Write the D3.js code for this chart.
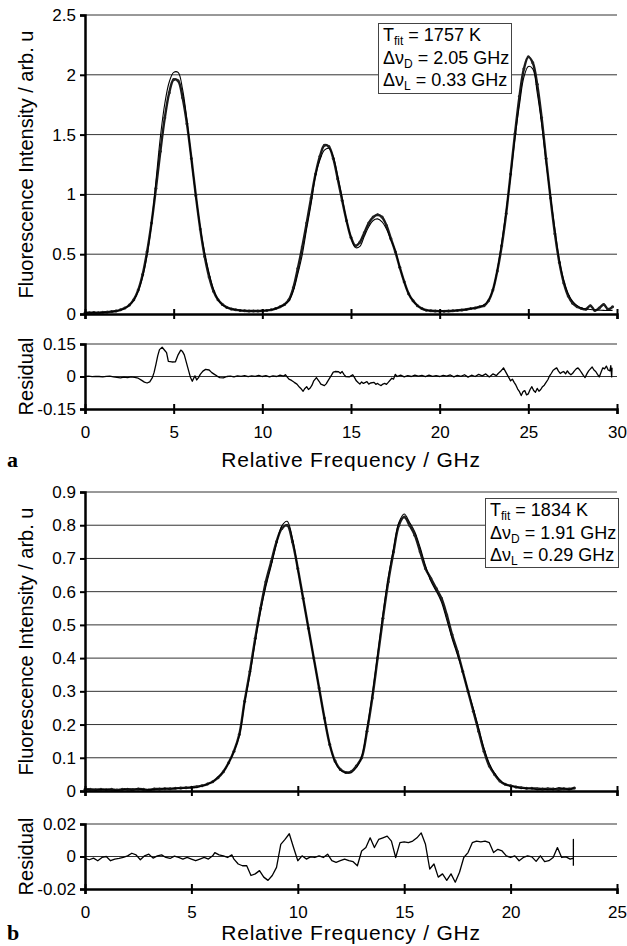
<!DOCTYPE html>
<html>
<head>
<meta charset="utf-8">
<script src="https://cdn.jsdelivr.net/npm/d3@7"></script>
<style>
  body { margin: 0; background: #fff; }
  svg text { font-family: "Liberation Sans", Arial, sans-serif; fill: #000; }
</style>
</head>
<body>
<svg id="chart" width="627" height="946"></svg>
<script>
// panel a: measured spectrum, fit and residual (GHz, arb. u)
var dataA = [[0,0.01],[0.25,0.01],[0.5,0.012],[0.75,0.01],[1,0.014],[1.25,0.016],[1.5,0.02],[1.75,0.025],[2,0.035],[2.25,0.05],[2.5,0.075],[2.75,0.12],[3,0.2],[3.25,0.33],[3.5,0.52],[3.75,0.76],[4,1.05],[4.25,1.36],[4.5,1.64],[4.75,1.85],[5,1.96],[5.25,1.95],[5.5,1.81],[5.75,1.59],[6,1.3],[6.25,0.99],[6.5,0.71],[6.75,0.48],[7,0.31],[7.25,0.19],[7.5,0.12],[7.75,0.08],[8,0.055],[8.25,0.042],[8.5,0.035],[8.75,0.03],[9,0.027],[9.25,0.025],[9.5,0.025],[9.75,0.025],[10,0.027],[10.25,0.03],[10.5,0.035],[10.75,0.045],[11,0.06],[11.25,0.08],[11.5,0.12],[11.75,0.22],[12,0.38],[12.25,0.56],[12.5,0.76],[12.75,0.97],[13,1.17],[13.25,1.32],[13.5,1.41],[13.75,1.4],[14,1.3],[14.25,1.13],[14.5,0.95],[14.75,0.78],[15,0.64],[15.25,0.57],[15.5,0.6],[15.75,0.68],[16,0.76],[16.25,0.81],[16.5,0.83],[16.75,0.81],[17,0.74],[17.25,0.63],[17.5,0.52],[17.75,0.39],[18,0.27],[18.25,0.17],[18.5,0.11],[18.75,0.07],[19,0.045],[19.25,0.032],[19.5,0.027],[19.75,0.025],[20,0.024],[20.25,0.024],[20.5,0.025],[20.75,0.027],[21,0.03],[21.25,0.033],[21.5,0.038],[21.75,0.045],[22,0.05],[22.25,0.06],[22.5,0.07],[22.75,0.11],[23,0.2],[23.25,0.36],[23.5,0.57],[23.75,0.84],[24,1.17],[24.25,1.51],[24.5,1.82],[24.75,2.05],[25,2.15],[25.25,2.1],[25.5,1.92],[25.75,1.64],[26,1.3],[26.25,0.97],[26.5,0.67],[26.75,0.43],[27,0.26],[27.25,0.15],[27.5,0.09],[27.75,0.06],[28,0.045],[28.25,0.04],[28.5,0.07],[28.75,0.03],[29,0.05],[29.25,0.08],[29.5,0.04],[29.75,0.06]];

var fitA = [[0,0.01],[0.25,0.01],[0.5,0.012],[0.75,0.01],[1,0.013],[1.25,0.015],[1.5,0.019],[1.75,0.024],[2,0.033],[2.25,0.048],[2.5,0.073],[2.75,0.115],[3,0.19],[3.25,0.31],[3.5,0.49],[3.75,0.75],[4,1.11],[4.25,1.48],[4.5,1.76],[4.75,1.94],[5,2.02],[5.25,2.02],[5.5,1.88],[5.75,1.62],[6,1.29],[6.25,0.99],[6.5,0.72],[6.75,0.51],[7,0.34],[7.25,0.205],[7.5,0.12],[7.75,0.075],[8,0.055],[8.25,0.042],[8.5,0.035],[8.75,0.03],[9,0.027],[9.25,0.025],[9.5,0.025],[9.75,0.025],[10,0.027],[10.25,0.03],[10.5,0.035],[10.75,0.045],[11,0.06],[11.25,0.08],[11.5,0.11],[11.75,0.193],[12,0.335],[12.25,0.495],[12.5,0.713],[12.75,0.92],[13,1.16],[13.25,1.29],[13.5,1.37],[13.75,1.385],[14,1.315],[14.25,1.153],[14.5,0.973],[14.75,0.78],[15,0.643],[15.25,0.555],[15.5,0.565],[15.75,0.65],[16,0.73],[16.25,0.782],[16.5,0.795],[16.75,0.77],[17,0.71],[17.25,0.618],[17.5,0.53],[17.75,0.39],[18,0.27],[18.25,0.17],[18.5,0.11],[18.75,0.07],[19,0.045],[19.25,0.032],[19.5,0.027],[19.75,0.025],[20,0.024],[20.25,0.024],[20.5,0.025],[20.75,0.027],[21,0.03],[21.25,0.033],[21.5,0.038],[21.75,0.045],[22,0.05],[22.25,0.06],[22.5,0.075],[22.75,0.115],[23,0.2],[23.25,0.37],[23.5,0.6],[23.75,0.86],[24,1.15],[24.25,1.475],[24.5,1.75],[24.75,1.98],[25,2.07],[25.25,2.05],[25.5,1.85],[25.75,1.59],[26,1.27],[26.25,0.98],[26.5,0.705],[26.75,0.45],[27,0.28],[27.25,0.17],[27.5,0.105],[27.75,0.07],[28,0.05],[28.25,0.042],[28.5,0.037],[28.75,0.034],[29,0.032],[29.25,0.03],[29.5,0.03],[29.75,0.03]];

var residA = [[0,0],[0.2,0.002],[0.4,-0.001],[0.6,0.001],[0.8,0],[1,-0.002],[1.2,0.001],[1.4,0.002],[1.6,-0.002],[1.8,-0.004],[2,-0.006],[2.2,-0.003],[2.4,-0.005],[2.6,-0.002],[2.8,-0.004],[3,-0.008],[3.2,-0.018],[3.35,-0.026],[3.5,-0.03],[3.65,-0.025],[3.8,-0.005],[3.9,0.02],[4,0.056],[4.1,0.095],[4.2,0.124],[4.35,0.135],[4.5,0.12],[4.6,0.11],[4.7,0.07],[4.9,0.067],[5.1,0.068],[5.25,0.1],[5.4,0.122],[5.5,0.115],[5.6,0.1],[5.7,0.07],[5.8,0.04],[5.95,-0.005],[6.05,-0.022],[6.15,-0.005],[6.2,0.003],[6.3,-0.016],[6.4,-0.005],[6.5,0.01],[6.65,0.025],[6.8,0.033],[7,0.03],[7.15,0.018],[7.3,0.01],[7.45,0.002],[7.6,-0.005],[7.8,-0.006],[8,0],[8.2,0.002],[8.4,-0.002],[8.6,0.003],[8.8,0.001],[9,0.004],[9.2,-0.001],[9.4,0.003],[9.6,0.001],[9.8,0.005],[10,0],[10.2,0.004],[10.4,-0.002],[10.6,0.003],[10.8,0],[11,0.006],[11.2,0.002],[11.3,0.008],[11.5,-0.012],[11.65,-0.018],[11.8,-0.027],[11.95,-0.035],[12.1,-0.05],[12.2,-0.058],[12.3,-0.068],[12.4,-0.055],[12.5,-0.047],[12.6,-0.06],[12.7,-0.053],[12.8,-0.04],[12.9,-0.02],[13.05,-0.005],[13.2,-0.022],[13.3,-0.035],[13.5,-0.042],[13.6,-0.034],[13.7,-0.02],[13.9,0.006],[14,0.02],[14.1,0.023],[14.3,0.022],[14.4,0.015],[14.5,0.023],[14.6,0.01],[14.7,0],[14.9,-0.002],[15,0.003],[15.1,0.008],[15.2,-0.005],[15.3,-0.02],[15.4,-0.028],[15.5,-0.035],[15.6,-0.025],[15.7,-0.032],[15.9,-0.024],[16,-0.035],[16.1,-0.03],[16.3,-0.027],[16.4,-0.036],[16.5,-0.032],[16.6,-0.038],[16.7,-0.042],[16.8,-0.035],[16.9,-0.032],[17,-0.036],[17.1,-0.027],[17.3,-0.008],[17.4,-0.012],[17.5,0.01],[17.6,0],[17.8,0.006],[18,-0.002],[18.2,0.004],[18.4,0],[18.6,0.006],[18.8,0.002],[19,0.005],[19.2,-0.001],[19.4,0.006],[19.6,0.001],[19.8,0.004],[20,0],[20.2,0.005],[20.4,0.002],[20.6,0.007],[20.8,-0.002],[21,0.005],[21.2,0.001],[21.4,0.008],[21.6,-0.003],[21.8,0.006],[22,0],[22.2,0.01],[22.4,0.003],[22.6,0.012],[22.8,-0.002],[23,0.012],[23.2,0.004],[23.3,0.014],[23.45,0.025],[23.6,0.04],[23.7,0.025],[23.8,0.01],[23.9,-0.005],[24,-0.02],[24.1,-0.012],[24.2,-0.027],[24.3,-0.04],[24.4,-0.058],[24.5,-0.07],[24.6,-0.088],[24.7,-0.07],[24.8,-0.065],[24.9,-0.085],[25,-0.08],[25.1,-0.06],[25.2,-0.047],[25.3,-0.065],[25.4,-0.073],[25.5,-0.055],[25.6,-0.068],[25.7,-0.06],[25.8,-0.047],[25.9,-0.04],[26,-0.027],[26.1,-0.015],[26.2,0.003],[26.3,0.015],[26.4,0.029],[26.5,0.035],[26.6,0.04],[26.7,0.025],[26.8,0.014],[26.9,0.02],[27,0.023],[27.1,0.012],[27.2,0.026],[27.3,0.015],[27.4,0.008],[27.5,0.015],[27.6,0.026],[27.7,0.035],[27.8,0.04],[27.9,0.03],[28,0.018],[28.1,0.005],[28.2,-0.005],[28.3,0.012],[28.4,0.026],[28.5,0.035],[28.6,0.044],[28.7,0.03],[28.8,0.023],[28.9,0.01],[29,-0.002],[29.1,0.02],[29.2,0.04],[29.3,0.035],[29.4,0.048],[29.5,0.03],[29.6,0.026],[29.65,0.05],[29.7,-0.002],[29.72,0.04]];

// panel b
var dataB = [[0,0.005],[0.25,0.005],[0.5,0.004],[0.75,0.005],[1,0.004],[1.25,0.005],[1.5,0.003],[1.75,0.005],[2,0.005],[2.25,0.004],[2.5,0.006],[2.75,0.005],[3,0.003],[3.25,0.006],[3.5,0.006],[3.75,0.007],[4,0.007],[4.25,0.008],[4.5,0.009],[4.75,0.01],[5,0.011],[5.25,0.013],[5.5,0.016],[5.75,0.021],[6,0.028],[6.25,0.04],[6.5,0.058],[6.75,0.085],[7,0.12],[7.25,0.17],[7.5,0.27],[7.75,0.36],[8,0.46],[8.25,0.55],[8.5,0.63],[8.75,0.69],[9,0.75],[9.25,0.79],[9.5,0.8],[9.75,0.75],[10,0.67],[10.25,0.58],[10.5,0.49],[10.75,0.4],[11,0.31],[11.25,0.22],[11.5,0.14],[11.75,0.09],[12,0.065],[12.25,0.056],[12.5,0.058],[12.75,0.075],[13,0.1],[13.25,0.18],[13.5,0.28],[13.75,0.4],[14,0.52],[14.25,0.63],[14.5,0.72],[14.75,0.8],[15,0.825],[15.25,0.8],[15.5,0.77],[15.75,0.72],[16,0.67],[16.25,0.64],[16.5,0.61],[16.75,0.58],[17,0.53],[17.25,0.47],[17.5,0.42],[17.75,0.36],[18,0.3],[18.25,0.24],[18.5,0.18],[18.75,0.12],[19,0.075],[19.25,0.05],[19.5,0.03],[19.75,0.02],[20,0.016],[20.25,0.012],[20.5,0.01],[20.75,0.008],[21,0.008],[21.25,0.007],[21.5,0.006],[21.75,0.007],[22,0.006],[22.25,0.005],[22.5,0.007],[22.75,0.006],[23,0.009]];

var fitB = [[0,0.004],[0.25,0.003],[0.5,0.003],[0.75,0.004],[1,0.004],[1.25,0.003],[1.5,0.002],[1.75,0.004],[2,0.006],[2.25,0.006],[2.5,0.006],[2.75,0.004],[3,0.004],[3.25,0.005],[3.5,0.006],[3.75,0.007],[4,0.006],[4.25,0.008],[4.5,0.008],[4.75,0.009],[5,0.01],[5.25,0.011],[5.5,0.015],[5.75,0.02],[6,0.028],[6.25,0.042],[6.5,0.058],[6.75,0.085],[7,0.119],[7.25,0.166],[7.5,0.265],[7.75,0.35],[8,0.45],[8.25,0.541],[8.5,0.616],[8.75,0.678],[9,0.744],[9.25,0.798],[9.5,0.812],[9.75,0.76],[10,0.668],[10.25,0.58],[10.5,0.49],[10.75,0.4],[11,0.31],[11.25,0.22],[11.5,0.141],[11.75,0.087],[12,0.063],[12.25,0.055],[12.5,0.055],[12.75,0.07],[13,0.103],[13.25,0.186],[13.5,0.29],[13.75,0.41],[14,0.532],[14.25,0.643],[14.5,0.73],[14.75,0.808],[15,0.834],[15.25,0.809],[15.5,0.78],[15.75,0.733],[16,0.678],[16.25,0.632],[16.5,0.602],[16.75,0.569],[17,0.515],[17.25,0.459],[17.5,0.41],[17.75,0.36],[18,0.302],[18.25,0.248],[18.5,0.189],[18.75,0.129],[19,0.083],[19.25,0.053],[19.5,0.033],[19.75,0.02],[20,0.015],[20.25,0.012],[20.5,0.008],[20.75,0.008],[21,0.008],[21.25,0.004],[21.5,0.006],[21.75,0.004],[22,0.005],[22.25,0.01],[22.5,0.007],[22.75,0.005],[23,0.01]];

var residB = [[0,-0.0012],[0.2,-0.002],[0.4,-0.001],[0.6,-0.0026],[0.8,-0.0006],[1,0],[1.2,-0.0026],[1.4,-0.0016],[1.6,-0.0012],[1.8,-0.0006],[2,0.0004],[2.2,0.002],[2.4,0.001],[2.6,-0.002],[2.8,0.0004],[3,0.0014],[3.2,-0.001],[3.4,0.0004],[3.6,0.001],[3.8,-0.0006],[4,-0.0012],[4.2,0.0002],[4.4,-0.0006],[4.6,-0.0016],[4.8,-0.0006],[5,-0.0016],[5.2,-0.0026],[5.4,-0.0016],[5.6,-0.0006],[5.8,-0.0016],[6,0.0004],[6.1,0.0024],[6.3,0.001],[6.5,0.0004],[6.7,-0.0006],[6.9,0.001],[7,-0.0016],[7.2,-0.0046],[7.4,-0.0057],[7.6,-0.0057],[7.8,-0.0117],[8,-0.0107],[8.2,-0.0087],[8.4,-0.0127],[8.6,-0.0147],[8.8,-0.0117],[9,-0.0067],[9.2,0.0075],[9.4,0.0105],[9.6,0.014],[9.8,0.0055],[10,-0.0026],[10.2,0.0004],[10.4,-0.0016],[10.6,-0.0002],[10.8,-0.0006],[11,0.0004],[11.2,-0.0006],[11.4,0.0014],[11.6,-0.0026],[11.8,-0.0036],[12,-0.0026],[12.2,-0.0016],[12.4,-0.0026],[12.6,-0.0032],[12.8,-0.0057],[13,0.0034],[13.2,0.0055],[13.4,0.0115],[13.6,0.0055],[13.8,0.0105],[14,0.0115],[14.2,0.0125],[14.4,0.0095],[14.6,-0.0006],[14.8,0.0085],[15,0.009],[15.2,0.0085],[15.4,0.0095],[15.6,0.0115],[15.8,0.0145],[16,0.0075],[16.2,-0.0077],[16.4,-0.0046],[16.6,-0.0127],[16.8,-0.0107],[17,-0.0147],[17.2,-0.0107],[17.4,-0.0158],[17.6,-0.0097],[17.8,-0.0006],[18,0.0024],[18.2,0.0085],[18.4,0.0095],[18.6,0.009],[18.8,0.0095],[19,0.0085],[19.2,0.0024],[19.4,0.0044],[19.6,0.0034],[19.8,0.0004],[20,-0.0006],[20.2,0.0004],[20.4,-0.0026],[20.6,-0.0006],[20.8,0.0004],[21,-0.0002],[21.2,-0.003],[21.4,0.0004],[21.6,-0.0032],[21.8,-0.0026],[22,-0.0006],[22.2,0.0055],[22.4,-0.0006],[22.6,-0.0002],[22.8,-0.0016],[22.95,-0.001],[22.95,0.0105],[22.95,-0.0057]];

var ticksA = [0, 0.5, 1, 1.5, 2, 2.5];
var ticksB = [0, 0.1, 0.2, 0.3, 0.4, 0.5, 0.6, 0.7, 0.8, 0.9];
var xTicksA = [0, 5, 10, 15, 20, 25, 30];
var xTicksB = [0, 5, 10, 15, 20, 25];
var resTicksA = [-0.15, 0, 0.15];
var resTicksB = [-0.02, 0, 0.02];
var legendA = [["T", "fit", " = 1757 K"], ["\u0394\u03bd", "D", " = 2.05 GHz"], ["\u0394\u03bd", "L", " = 0.33 GHz"]];
var legendB = [["T", "fit", " = 1834 K"], ["\u0394\u03bd", "D", " = 1.91 GHz"], ["\u0394\u03bd", "L", " = 0.29 GHz"]];

(function () {

    window.addEventListener('load', init);

    var left = 85, right = 617;

    function init() {
        var svg = d3.select("#chart");

        mainPanel(svg, {top: 15, bottom: 314, xMax: 30, xTicks: xTicksA, yTicks: ticksA,
            data: dataA, fit: fitA, legend: legendA, box: [378, 23, 133, 70]});
        residPanel(svg, {top: 344, bottom: 409, xMax: 30, xTicks: xTicksA, yTicks: resTicksA,
            resid: residA, letter: "a", labelY: 467});

        mainPanel(svg, {top: 492, bottom: 791, xMax: 25, xTicks: xTicksB, yTicks: ticksB,
            data: dataB, fit: fitB, legend: legendB, box: [485, 498, 133, 69]});
        residPanel(svg, {top: 824, bottom: 889, xMax: 25, xTicks: xTicksB, yTicks: resTicksB,
            resid: residB, letter: "b", labelY: 940});
    }

    function fmt(d) { return String(d); }

    function xAxis(g, x, yPos, labels) {
        var ax = g.append("g")
            .attr("transform", "translate(0," + yPos + ")")
            .call(d3.axisBottom(x).tickValues(x.ticksList).tickSize(5).tickFormat(labels ? fmt : ""));
        ax.select(".domain").attr("stroke", "#000").attr("stroke-width", 2.5);
        ax.selectAll(".tick line").attr("y1", -5).attr("y2", 5).attr("stroke-width", 2);
        ax.selectAll(".tick text").attr("y", 17).attr("dy", "0.71em")
            .style("font-size", "17px").style("font-family", '"Liberation Sans", Arial, sans-serif');
        return ax;
    }

    function yAxis(g, y, ticks) {
        var ay = g.append("g")
            .attr("transform", "translate(" + left + ",0)")
            .call(d3.axisLeft(y).tickValues(ticks).tickSize(5).tickPadding(4).tickFormat(fmt));
        ay.select(".domain").attr("stroke", "#000").attr("stroke-width", 2.5);
        ay.selectAll(".tick line").attr("stroke-width", 2);
        ay.selectAll(".tick text").style("font-size", "17px")
            .style("font-family", '"Liberation Sans", Arial, sans-serif');
        return ay;
    }

    function mainPanel(svg, c) {
        var g = svg.append("g");
        var x = d3.scaleLinear().domain([0, c.xMax]).range([left, right]);
        x.ticksList = c.xTicks;
        var y = d3.scaleLinear().domain([0, c.yTicks[c.yTicks.length - 1]]).range([c.bottom, c.top]);

        // grid lines
        g.selectAll(".grid")
            .data(c.yTicks.slice(1))
            .enter().append("line")
            .attr("x1", left).attr("x2", right)
            .attr("y1", function (d) { return y(d); })
            .attr("y2", function (d) { return y(d); })
            .attr("stroke", "#333").attr("stroke-width", 1);

        var line = d3.line()
            .x(function (d) { return x(d[0]); })
            .y(function (d) { return y(d[1]); })
            .curve(d3.curveCatmullRom);

        // measured points
        g.append("path").datum(c.data)
            .attr("d", line).attr("fill", "none")
            .attr("stroke", "#1a1a1a").attr("stroke-width", 2.4);
        g.selectAll(".pt")
            .data(c.data)
            .enter().append("circle")
            .attr("cx", function (d) { return x(d[0]); })
            .attr("cy", function (d) { return y(d[1]); })
            .attr("r", 1.5).attr("fill", "#222");

        // fit
        g.append("path").datum(c.fit)
            .attr("d", line).attr("fill", "none")
            .attr("stroke", "#000").attr("stroke-width", 1.1);

        yAxis(g, y, c.yTicks);
        xAxis(g, x, c.bottom, false);

        // text label for the y axis
        g.append("text")
            .attr("transform", "rotate(-90)")
            .attr("x", -(c.top + c.bottom) / 2)
            .attr("y", 33)
            .style("text-anchor", "middle")
            .style("font-size", "20px")
            .text("Fluorescence Intensity / arb. u");

        // legend box
        var b = c.box;
        g.append("rect")
            .attr("x", b[0] + 0.5).attr("y", b[1] + 0.5)
            .attr("width", b[2]).attr("height", b[3])
            .attr("fill", "#fff").attr("stroke", "#444").attr("stroke-width", 1);
        c.legend.forEach(function (row, i) {
            var t = g.append("text")
                .attr("x", b[0] + 5)
                .attr("y", b[1] + 18 + i * 22.5)
                .style("font-size", "18px");
            t.append("tspan").text(row[0]);
            t.append("tspan").attr("dy", 4).style("font-size", "12px").text(row[1]);
            t.append("tspan").attr("dy", -4).text(row[2]);
        });
    }

    function residPanel(svg, c) {
        var g = svg.append("g");
        var x = d3.scaleLinear().domain([0, c.xMax]).range([left, right]);
        x.ticksList = c.xTicks;
        var r = c.yTicks[2];
        var y = d3.scaleLinear().domain([-r, r]).range([c.bottom, c.top]);

        g.selectAll(".grid")
            .data([0, r])
            .enter().append("line")
            .attr("x1", left).attr("x2", right)
            .attr("y1", function (d) { return y(d); })
            .attr("y2", function (d) { return y(d); })
            .attr("stroke", "#333").attr("stroke-width", 1);

        var line = d3.line()
            .x(function (d) { return x(d[0]); })
            .y(function (d) { return y(d[1]); });

        g.append("path").datum(c.resid)
            .attr("d", line).attr("fill", "none")
            .attr("stroke", "#000").attr("stroke-width", 1.3)
            .attr("stroke-linejoin", "round");

        yAxis(g, y, c.yTicks);
        xAxis(g, x, c.bottom, true);

        g.append("text")
            .attr("transform", "rotate(-90)")
            .attr("x", -(c.top + c.bottom) / 2)
            .attr("y", 33)
            .style("text-anchor", "middle")
            .style("font-size", "20px")
            .text("Residual");

        // text label for the x axis
        g.append("text")
            .attr("x", (left + right) / 2)
            .attr("y", c.labelY)
            .style("text-anchor", "middle")
            .style("font-size", "21px")
            .style("letter-spacing", "0.8px")
            .text("Relative Frequency / GHz");

        g.append("text")
            .attr("x", 7)
            .attr("y", c.labelY)
            .style("font-family", '"Liberation Serif", "Times New Roman", serif')
            .style("font-weight", "bold")
            .style("font-size", "22px")
            .text(c.letter);
    }
})();
</script>
</body>
</html>
